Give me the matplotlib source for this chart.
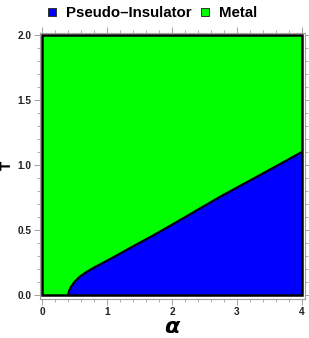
import matplotlib
matplotlib.use("Agg")
import matplotlib.pyplot as plt
from matplotlib.patches import Rectangle
from matplotlib.ticker import MultipleLocator
from matplotlib.lines import Line2D

# Phase boundary T_c(alpha)
alpha = [0.00, 0.40, 0.42, 0.45, 0.50, 0.58, 0.68, 0.80, 0.95, 1.10, 1.35, 1.70, 2.00, 2.74, 3.40, 4.00]
T_c   = [0.00, 0.00, 0.035, 0.065, 0.10, 0.14, 0.175, 0.21, 0.25, 0.29, 0.36, 0.455, 0.54, 0.755, 0.935, 1.10]
T_max = 2.0
x_ticks = [0, 1, 2, 3, 4]
y_ticks = [0.0, 0.5, 1.0, 1.5, 2.0]
labels = ["Pseudo\u2013Insulator", "Metal"]
colors = ["#0000ff", "#00ff00"]

plt.rcParams['font.family'] = ['Liberation Sans', 'DejaVu Sans']

fig = plt.figure(figsize=(3.09, 3.38), dpi=100)
ax = fig.add_axes([40/309, (338-299)/338, 265/309, 266/338])

ax.fill_between(alpha, T_c, T_max, color=colors[1], lw=0)
ax.fill_between(alpha, 0, T_c, color=colors[0], lw=0)
ax.plot(alpha[1:], T_c[1:], color='black', lw=1.6, solid_capstyle='butt')
ax.add_patch(Rectangle((0, 0), 4, T_max, fill=False, ec='black', lw=1.8))

ax.set_xlim(-0.031, 4.046)
ax.set_ylim(-0.031, 2.015)

gray = '#a0a0a0'
for s in ax.spines.values():
    s.set_color(gray)
    s.set_linewidth(0.8)

ax.set_xticks(x_ticks)
ax.set_yticks(y_ticks)
ax.set_xticklabels([str(v) for v in x_ticks])
ax.set_yticklabels([f"{v:.1f}" for v in y_ticks])
ax.xaxis.set_minor_locator(MultipleLocator(0.2))
ax.yaxis.set_minor_locator(MultipleLocator(0.1))
ax.tick_params(which='both', direction='out', color=gray, top=True, right=True,
               labeltop=False, labelright=False)
ax.tick_params(which='major', length=4, width=0.7, labelsize=7.3, labelcolor='#222222', pad=2)
ax.tick_params(which='minor', length=2.2, width=0.6)
for lab in ax.get_xticklabels() + ax.get_yticklabels():
    lab.set_fontweight('bold')

fig.text(172/309, 1 - 327/338, "\u03b1", ha='center', va='center', fontsize=16,
         fontweight='bold', style='italic', family=['DejaVu Sans'])
fig.text(7/309, 1 - 165/338, "T", ha='center', va='center', fontsize=11,
         fontweight='bold', rotation=90)

# Legend
handles = [Line2D([], [], marker='s', ls='', markersize=5.8, markerfacecolor=c,
                  markeredgecolor='#333333', markeredgewidth=0.7) for c in colors]
fig.legend(handles, labels, loc='center', bbox_to_anchor=(152/309, 1 - 13/338),
           ncol=2, frameon=False, handlelength=0.7, handletextpad=0.6,
           columnspacing=0.5, prop={'weight': 'bold', 'size': 10.8})

fig.savefig("out.png", dpi=100)
